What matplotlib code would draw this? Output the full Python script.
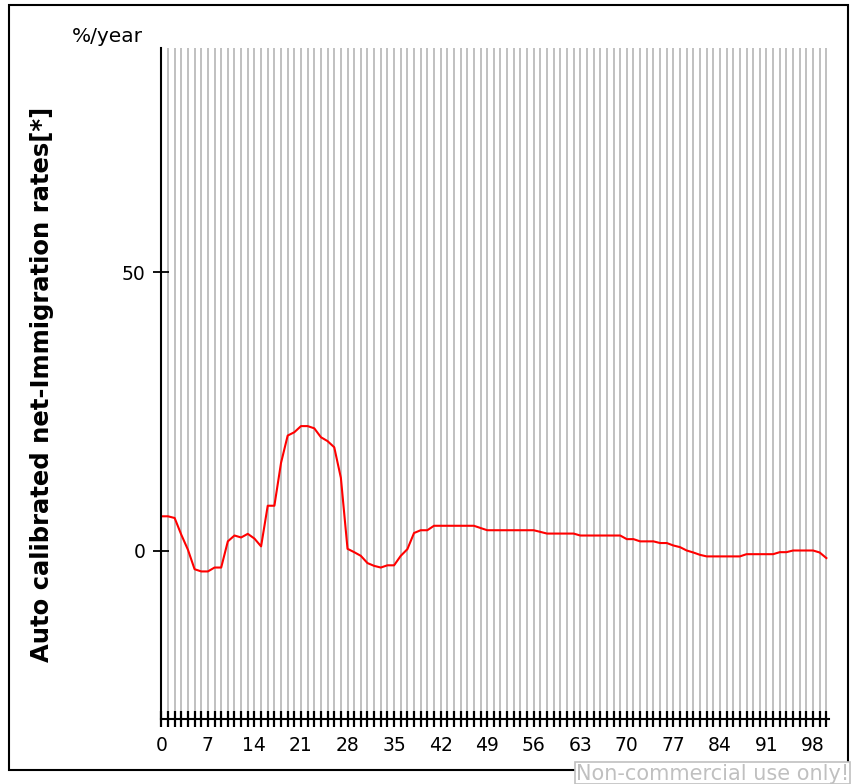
import matplotlib
matplotlib.use("Agg")
import matplotlib.pyplot as plt
from matplotlib.patches import Rectangle
from matplotlib.ticker import MultipleLocator

years = list(range(0, 101))
rates = [6.2, 6.2, 5.9, 2.9, 0.2, -3.3, -3.7, -3.7, -3.0, -3.0,
         1.7, 2.75, 2.4, 3.05, 2.2, 0.8, 8.1, 8.1, 15.8, 20.7,
         21.3, 22.4, 22.4, 22.0, 20.4, 19.7, 18.6, 13.1, 0.36, -0.24,
         -0.9, -2.2, -2.7, -3.0, -2.6, -2.6, -0.9, 0.3, 3.2, 3.7,
         3.7, 4.5, 4.5, 4.5, 4.5, 4.5, 4.5, 4.5, 4.1, 3.7,
         3.7, 3.7, 3.7, 3.7, 3.7, 3.7, 3.7, 3.4, 3.1, 3.1,
         3.1, 3.1, 3.1, 2.75, 2.75, 2.75, 2.75, 2.75, 2.75, 2.75,
         2.1, 2.1, 1.7, 1.7, 1.7, 1.4, 1.4, 0.96, 0.66, 0.06,
         -0.3, -0.72, -1.0, -1.0, -1.0, -1.0, -1.0, -1.0, -0.6, -0.6,
         -0.6, -0.6, -0.6, -0.24, -0.24, 0.06, 0.06, 0.06, 0.06, -0.3,
         -1.3]
x_tick_labels = [0, 7, 14, 21, 28, 35, 42, 49, 56, 63, 70, 77, 84, 91, 98]
y_tick_labels = [0, 50]

W, H = 851, 784
fig = plt.figure(figsize=(W / 100, H / 100), dpi=100)
ax = fig.add_axes([161 / W, (H - 719) / H, 668 / W, 671 / H])

ax.plot(years, rates, color="red", lw=1.5, zorder=3)

ax.set_xlim(-0.05, 100.4)
ax.set_ylim(-30.2, 90.3)
ax.xaxis.set_major_locator(plt.FixedLocator(x_tick_labels))
ax.xaxis.set_minor_locator(MultipleLocator(1))
ax.set_yticks(y_tick_labels)
ax.grid(False)
for t in years:
    ax.axvline(t, color="#c0c0c0", lw=1.4, zorder=1)

for s in ["top", "right"]:
    ax.spines[s].set_visible(False)
for s in ["left", "bottom"]:
    ax.spines[s].set_linewidth(1.5)
    ax.spines[s].set_color("black")
    ax.spines[s].set_zorder(4)

ax.tick_params(axis="x", which="both", direction="inout", length=12, width=1.6,
               labelsize=13.5, pad=6)
ax.tick_params(axis="y", which="major", direction="inout", length=12, width=1.3,
               labelsize=13.5, pad=5)

ax.set_ylabel("Auto calibrated net-Immigration rates[*]", fontsize=17.5,
              fontweight="bold")
ax.yaxis.set_label_coords(-0.16, 0.498)

fig.text(72 / W, 1 - 36 / H, "%/year", fontsize=14.5, ha="left", va="center")

# figure frame
fig.patches.append(Rectangle((9 / W, 1 - 770 / H), (848 - 9) / W, (770 - 5) / H,
                             transform=fig.transFigure, fill=False,
                             edgecolor="black", lw=1.5, zorder=0))
# watermark
fig.patches.append(Rectangle((575 / W, 0), (850 - 575) / W, (784 - 762) / H,
                             transform=fig.transFigure, facecolor="white",
                             edgecolor="#c0c0c0", lw=1.2, zorder=5))
fig.text(713 / W, 1 - 774 / H, "Non-commercial use only!", fontsize=15,
         color="#c0c0c0", ha="center", va="center", zorder=6)

fig.savefig("out.png", dpi=100)
